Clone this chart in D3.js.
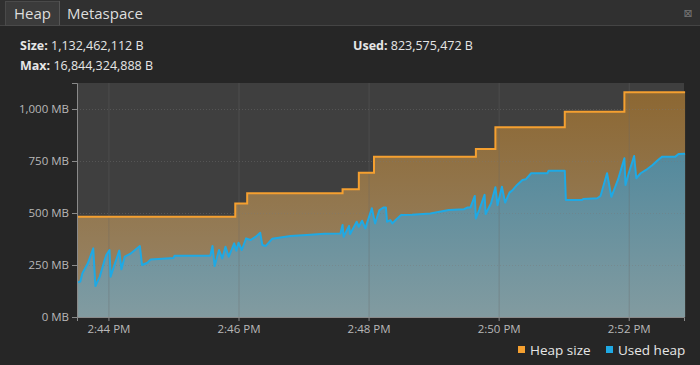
<!DOCTYPE html>
<html>
<head>
<meta charset="utf-8">
<script src="https://cdn.jsdelivr.net/npm/d3@7"></script>
<style>
  body { margin: 0; background: #262626; }
  svg { display: block; font-family: "Open Sans", "DejaVu Sans", sans-serif; }
</style>
</head>
<body>
<svg id="heap-svg" width="700" height="365"></svg>
<script>
// seconds after 14:43:00
const heapSec = [31, 177, 188, 276, 291, 305, 399, 417, 481, 536, 592];
const heapMB = [482, 546, 595, 614, 694, 771, 808, 912, 987, 1080, 1080];

const usedSec = [32, 34, 36, 41, 46, 48, 52, 56, 58, 61, 62, 65, 70, 72, 75, 80, 89, 91, 96, 99,
    120, 121, 154, 156, 158, 162, 165, 168, 171, 176, 178, 180, 183, 187, 191, 196, 200, 202, 205, 211,
    228, 243, 259, 274, 276, 277, 282, 283, 289, 291, 294, 297, 303, 306, 310, 314, 316, 317, 320, 322,
    325, 330, 340, 357, 374, 388, 391, 394, 398, 399, 402, 407, 408, 413, 417, 419, 423, 426, 430, 433,
    437, 442, 445, 450, 465, 466, 481, 482, 497, 498, 511, 514, 520, 524, 530, 536, 537, 540, 545, 547,
    551, 556, 562, 567, 571, 583, 586, 592];
const usedMB = [167, 170, 210, 258, 330, 149, 194, 266, 298, 322, 194, 242, 319, 229, 290, 303, 341, 250, 261, 277,
    284, 295, 295, 341, 245, 322, 282, 338, 290, 354, 319, 357, 322, 378, 370, 386, 405, 346, 341, 376,
    389, 394, 400, 402, 442, 386, 438, 399, 458, 434, 463, 426, 523, 450, 514, 527, 527, 458, 466, 450,
    466, 490, 492, 498, 514, 518, 526, 527, 582, 474, 514, 587, 495, 547, 624, 538, 626, 550, 598, 611,
    635, 659, 662, 691, 691, 703, 703, 563, 563, 567, 571, 582, 691, 578, 659, 763, 635, 691, 774, 667,
    691, 707, 731, 755, 771, 771, 784, 785];

const yTicks = [0, 250, 500, 750, 1000];
const xTicks = ["14:44", "14:46", "14:48", "14:50", "14:52"];

const stats = [
    { label: "Size:", value: "1,132,462,112 B", x: 20, y: 50 },
    { label: "Max:", value: "16,844,324,888 B", x: 20, y: 70 },
    { label: "Used:", value: "823,575,472 B", x: 353, y: 50 }
];

const toDate = s => new Date(2024, 0, 1, 14, 43, s);
const heapData = heapSec.map((s, i) => ({ t: toDate(s), v: heapMB[i] }));
const usedData = usedSec.map((s, i) => ({ t: toDate(s), v: usedMB[i] }));

const size = {
    width: 700,
    height: 365,
    margin: { top: 83, right: 16, bottom: 48, left: 77 }
};
const svg = d3.select("#heap-svg");

// tab bar
svg.append("rect").attr("x", 0).attr("y", 0).attr("width", 700).attr("height", 25).attr("fill", "#303030");
svg.append("line").attr("x1", 0).attr("x2", 700).attr("y1", 25.5).attr("y2", 25.5).attr("stroke", "#444");
svg.append("rect").attr("x", 5.5).attr("y", 1.5).attr("width", 54).attr("height", 24)
    .attr("fill", "#3b3b3b").attr("stroke", "#4a4a4a");
svg.append("line").attr("x1", 59.5).attr("x2", 59.5).attr("y1", 1).attr("y2", 25).attr("stroke", "#555");
svg.append("text").attr("x", 14).attr("y", 19).attr("fill", "#dedede").attr("font-size", 15).text("Heap");
svg.append("text").attr("x", 67).attr("y", 19).attr("fill", "#dedede").attr("font-size", 15).text("Metaspace");
svg.append("text").attr("x", 688).attr("y", 17).attr("text-anchor", "middle")
    .attr("fill", "#777").attr("font-size", 11).text("⊠");

// stats
const st = svg.selectAll("text.stat").data(stats).join("text")
    .attr("class", "stat")
    .attr("x", d => d.x).attr("y", d => d.y)
    .attr("font-size", 12.5).attr("fill", "#e6e6e6");
st.append("tspan").attr("font-weight", "bold").text(d => d.label + " ");
st.append("tspan").text(d => d.value);

const x0 = size.margin.left, x1 = size.width - size.margin.right;
const y0 = size.height - size.margin.bottom, y1 = size.margin.top;

const xScale = d3.scaleTime()
    .domain([toDate(31.4), toDate(591.7)])
    .range([x0, x1]);
const yScale = d3.scaleLinear()
    .domain([0, 1125])
    .range([y0, y1]);

// gradients
const defs = svg.append("defs");
const g1 = defs.append("linearGradient").attr("id", "heapFill")
    .attr("gradientUnits", "userSpaceOnUse").attr("x1", 0).attr("x2", 0).attr("y1", y1).attr("y2", y0);
g1.append("stop").attr("offset", 0).attr("stop-color", "#8c6630");
g1.append("stop").attr("offset", 1).attr("stop-color", "#98876c");
const g2 = defs.append("linearGradient").attr("id", "usedFill")
    .attr("gradientUnits", "userSpaceOnUse").attr("x1", 0).attr("x2", 0).attr("y1", y1).attr("y2", y0);
g2.append("stop").attr("offset", 0).attr("stop-color", "#3f829c");
g2.append("stop").attr("offset", 1).attr("stop-color", "#829ba0");

svg.append("rect").attr("x", x0).attr("y", y1).attr("width", x1 - x0).attr("height", y0 - y1)
    .attr("fill", "#3f3f3f");

const heapArea = d3.area().curve(d3.curveStepAfter)
    .x(d => xScale(d.t)).y0(y0).y1(d => yScale(d.v));
const usedArea = d3.area()
    .x(d => xScale(d.t)).y0(y0).y1(d => yScale(d.v));

svg.append("path").datum(heapData).attr("d", heapArea).attr("fill", "url(#heapFill)");
svg.append("path").datum(usedData).attr("d", usedArea).attr("fill", "url(#usedFill)");

// grid
const parse = d3.timeParse("%H:%M");
const xTickDates = xTicks.map(s => { const p = parse(s); return new Date(2024, 0, 1, p.getHours(), p.getMinutes()); });
svg.append("g").selectAll("line").data(xTickDates).join("line")
    .attr("x1", d => xScale(d) + 0.5).attr("x2", d => xScale(d) + 0.5)
    .attr("y1", y1).attr("y2", y0)
    .attr("stroke", "#666").attr("stroke-opacity", 0.35);
svg.append("g").selectAll("line").data(yTicks.slice(1)).join("line")
    .attr("x1", x0).attr("x2", x1)
    .attr("y1", d => yScale(d) + 0.5).attr("y2", d => yScale(d) + 0.5)
    .attr("stroke", "#777").attr("stroke-dasharray", "1,2").attr("stroke-opacity", 0.4);

// lines
svg.append("path").datum(heapData)
    .attr("d", d3.line().curve(d3.curveStepAfter).x(d => xScale(d.t)).y(d => yScale(d.v)))
    .attr("fill", "none").attr("stroke", "#f5a030").attr("stroke-width", 2);
svg.append("path").datum(usedData)
    .attr("d", d3.line().x(d => xScale(d.t)).y(d => yScale(d.v)))
    .attr("fill", "none").attr("stroke", "#1fa9e4").attr("stroke-width", 2).attr("stroke-linejoin", "round");

// axes
const fmtMB = d3.format(",");
const yAxis = svg.append("g")
    .attr("transform", `translate(${x0}, 0)`)
    .call(d3.axisLeft(yScale).tickValues(yTicks).tickSize(5).tickPadding(3).tickFormat(d => fmtMB(d) + " MB"));
const xAxis = svg.append("g")
    .attr("transform", `translate(0, ${y0})`)
    .call(d3.axisBottom(xScale).tickValues(xTickDates).tickSize(4).tickPadding(4).tickFormat(d3.timeFormat("%-I:%M %p")));
[yAxis, xAxis].forEach(a => {
    a.select(".domain").attr("stroke", "#8a8a8a");
    a.selectAll(".tick line").attr("stroke", "#8a8a8a");
    a.selectAll(".tick text").attr("fill", "#b8b8b8").attr("font-size", 11.5)
        .attr("font-family", "\"Open Sans\", sans-serif");
});

// legend
const legend = [
    { name: "Heap size", color: "#f5a030", x: 518 },
    { name: "Used heap", color: "#1fa9e4", x: 606 }
];
const lg = svg.append("g").selectAll("g").data(legend).join("g")
    .attr("transform", d => `translate(${d.x}, 346)`);
lg.append("rect").attr("width", 7).attr("height", 7).attr("fill", d => d.color);
lg.append("text").attr("x", 12).attr("y", 9).attr("fill", "#e6e6e6").attr("font-size", 13.5).text(d => d.name);
</script>
</body>
</html>
